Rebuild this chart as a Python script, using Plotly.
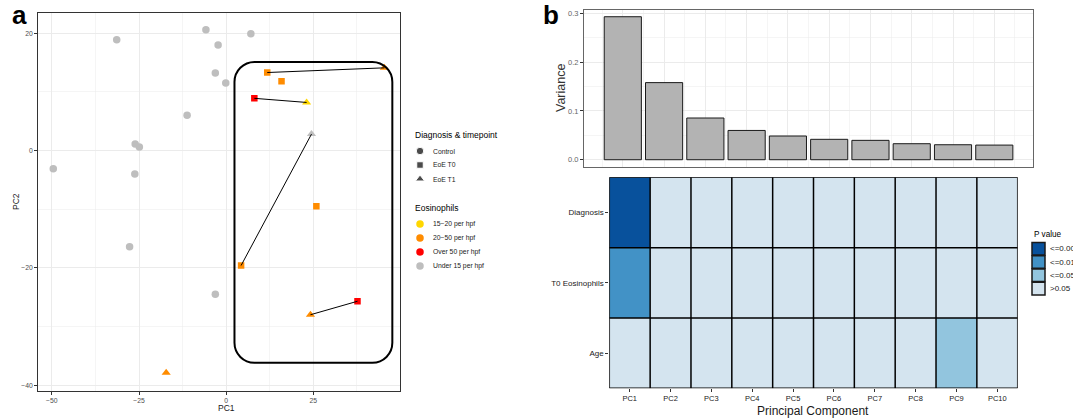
import plotly.graph_objects as go

W, H = 1073, 420
FONT = "Liberation Sans"

# ---------------- Panel a data (PCA scores) ----------------
ctrl_x = [-31.4, -5.8, -2.3, 7.1, -3.1, -0.1, -11.2, -26.1, -24.9, -49.6, -26.2, -27.7, -3.1]
ctrl_y = [18.9, 20.6, 18.0, 19.9, 13.2, 11.5, 6.0, 1.1, 0.6, -3.1, -4.0, -16.4, -24.5]
ctrl_eos = ["Under 15 per hpf"] * len(ctrl_x)

t0_x = [11.8, 15.9, 25.9, 4.3, 8.1, 37.7]
t0_y = [13.3, 11.8, -9.5, -19.6, 8.9, -25.7]
t0_eos = ["20\u221250 per hpf", "20\u221250 per hpf", "20\u221250 per hpf", "20\u221250 per hpf",
          "Over 50 per hpf", "Over 50 per hpf"]

t1_x = [45.4, 23.1, 24.2, -17.2, 24.5]
t1_y = [14.1, 8.2, -28.0, -37.9, 2.8]
t1_eos = ["20\u221250 per hpf", "15\u221220 per hpf", "20\u221250 per hpf", "20\u221250 per hpf",
          "Under 15 per hpf"]

# paired samples: (index in T0, index in T1)
pairs = [(0, 0), (4, 1), (3, 4), (5, 2)]

eos_levels = ["15\u221220 per hpf", "20\u221250 per hpf", "Over 50 per hpf", "Under 15 per hpf"]
eos_colors = ["#ffd700", "#ff8c00", "#ff0000", "#bebebe"]
diag_levels = ["Control", "EoE T0", "EoE T1"]
diag_symbols = ["circle", "square", "triangle-up"]

# highlighted region (rounded box) bounds in PC units
box_x0, box_x1, box_y0, box_y1 = 2.4, 47.7, -36.2, 15.1

# ---------------- Panel b data ----------------
pcs = ["PC1", "PC2", "PC3", "PC4", "PC5", "PC6", "PC7", "PC8", "PC9", "PC10"]
variance = [0.293, 0.158, 0.0855, 0.060, 0.0486, 0.0418, 0.0397, 0.0328, 0.0307, 0.0300]

traits = ["Diagnosis", "T0 Eosinophils", "Age"]
pval_levels = [">0.05", "<=0.05", "<=0.01", "<=0.001"]
pval_colors = ["#d4e4ef", "#92c5de", "#4292c6", "#08519c"]
diagnosis_p = [3, 0, 0, 0, 0, 0, 0, 0, 0, 0]
t0_eos_p = [2, 0, 0, 0, 0, 0, 0, 0, 0, 0]
age_p = [0, 0, 0, 0, 0, 0, 0, 0, 1, 0]

# ---------------- helpers ----------------
def px(x):
    return x / W


def py(y):
    return 1 - y / H


col_of = dict(zip(eos_levels, eos_colors))

fig = go.Figure()

# ---- Panel a scatter ----
fig.add_trace(go.Scatter(x=ctrl_x, y=ctrl_y, mode="markers", xaxis="x", yaxis="y",
                         marker=dict(symbol="circle", size=7.5, color=[col_of[e] for e in ctrl_eos]),
                         showlegend=False, hoverinfo="skip"))
fig.add_trace(go.Scatter(x=t0_x, y=t0_y, mode="markers", xaxis="x", yaxis="y",
                         marker=dict(symbol="square", size=6.5, color=[col_of[e] for e in t0_eos]),
                         showlegend=False, hoverinfo="skip"))
fig.add_trace(go.Scatter(x=t1_x, y=t1_y, mode="markers", xaxis="x", yaxis="y",
                         marker=dict(symbol="triangle-up", size=8, color=[col_of[e] for e in t1_eos]),
                         showlegend=False, hoverinfo="skip"))
lx, ly = [], []
for i, j in pairs:
    lx += [t0_x[i], t1_x[j], None]
    ly += [t0_y[i], t1_y[j], None]
fig.add_trace(go.Scatter(x=lx, y=ly, mode="lines", xaxis="x", yaxis="y",
                         line=dict(color="black", width=1), showlegend=False, hoverinfo="skip"))

# rounded rectangle (path in data coords, radius ~20px)
rx, ry = 20 / 3.488, 20 / 5.861
k = 1 - 0.5523
path = (f"M {box_x0+rx},{box_y1} L {box_x1-rx},{box_y1} "
        f"C {box_x1-rx*k},{box_y1} {box_x1},{box_y1-ry*k} {box_x1},{box_y1-ry} "
        f"L {box_x1},{box_y0+ry} "
        f"C {box_x1},{box_y0+ry*k} {box_x1-rx*k},{box_y0} {box_x1-rx},{box_y0} "
        f"L {box_x0+rx},{box_y0} "
        f"C {box_x0+rx*k},{box_y0} {box_x0},{box_y0+ry*k} {box_x0},{box_y0+ry} "
        f"L {box_x0},{box_y1-ry} "
        f"C {box_x0},{box_y1-ry*k} {box_x0+rx*k},{box_y1} {box_x0+rx},{box_y1} Z")
shapes = [dict(type="path", path=path, xref="x", yref="y", line=dict(color="black", width=2))]

# ---- Panel b bar chart ----
pc_pos = list(range(1, len(pcs) + 1))
fig.add_trace(go.Bar(x=pc_pos, y=variance, xaxis="x2", yaxis="y2", width=0.9,
                     marker=dict(color="#b3b3b3", line=dict(color="#1a1a1a", width=1)),
                     showlegend=False, hoverinfo="skip"))

# ---- Panel b heatmap ----
z = [diagnosis_p, t0_eos_p, age_p]
n = len(pval_levels)
cs = []
for i, c in enumerate(pval_colors):
    cs += [[i / n, c], [(i + 1) / n, c]]
fig.add_trace(go.Heatmap(x=pcs, y=traits, z=z, xaxis="x3", yaxis="y3", colorscale=cs,
                         zmin=-0.5, zmax=n - 0.5, showscale=False, hoverinfo="skip"))
for i in range(len(pcs) + 1):
    shapes.append(dict(type="line", xref="x3", yref="y3", x0=i - 0.5, x1=i - 0.5,
                       y0=-0.5, y1=len(traits) - 0.5, line=dict(color="black", width=1.5)))
for j in range(len(traits) + 1):
    shapes.append(dict(type="line", xref="x3", yref="y3", x0=-0.5, x1=len(pcs) - 0.5,
                       y0=j - 0.5, y1=j - 0.5, line=dict(color="black", width=1.5)))

# ---- Panel a legend (drawn on a pixel-coordinate overlay axis) ----
leg_x = 420
diag_leg_y = [151, 165, 179]
eos_leg_y = [224, 238, 252, 266]
fig.add_trace(go.Scatter(x=[leg_x] * 3, y=diag_leg_y, mode="markers", xaxis="x4", yaxis="y4",
                         marker=dict(symbol=diag_symbols, size=[7.5, 6.5, 8], color="black"),
                         showlegend=False, hoverinfo="skip"))
fig.add_trace(go.Scatter(x=[leg_x] * 4, y=eos_leg_y, mode="markers", xaxis="x4", yaxis="y4",
                         marker=dict(symbol="circle", size=7.5, color=eos_colors),
                         showlegend=False, hoverinfo="skip"))

annotations = []


def txt(text, x, y, size, color="black", xanchor="left", angle=0, bold=False):
    annotations.append(dict(text=f"<b>{text}</b>" if bold else text, x=px(x), y=py(y),
                            xref="paper", yref="paper", xanchor=xanchor, yanchor="middle",
                            showarrow=False, textangle=angle,
                            font=dict(family=FONT, size=size, color=color)))


txt("Diagnosis &amp; timepoint", 412.5, 135.5, 8.5)
for lab, yy in zip(diag_levels, diag_leg_y):
    txt(lab, 430.5, yy, 6.8, "#1a1a1a")
txt("Eosinophils", 412.5, 208.3, 8.5)
for lab, yy in zip(eos_levels, eos_leg_y):
    txt(lab, 430.5, yy, 6.8, "#1a1a1a")

# panel titles and axis titles
txt("a", 9.5, 15.5, 26, bold=True)
txt("b", 541, 15.5, 26, bold=True)
txt("PC1", 226.5, 407.7, 8.5, "#1a1a1a", xanchor="center")
txt("PC2", 16, 202, 8.5, "#1a1a1a", xanchor="center", angle=-90)
txt("Variance", 561, 88, 12.5, "#333333", xanchor="center", angle=-90)
txt("Principal Component", 813, 410.5, 12, "#1a1a1a", xanchor="center")

# heatmap legend
txt("P value", 1031.5, 234, 8.2)
key_y = [248.7, 262, 275.3, 288.6]
for lab, col, yy in zip(pval_levels[::-1], pval_colors[::-1], key_y):
    shapes.append(dict(type="rect", xref="paper", yref="paper",
                       x0=px(1032), x1=px(1045), y0=py(yy + 6.3), y1=py(yy - 6.3),
                       fillcolor=col, line=dict(color="#1a1a1a", width=1.5)))
    txt(lab, 1048, yy, 8, "#1a1a1a")

grid = "#ebebeb"
tickf = dict(family=FONT, size=6.8, color="#4d4d4d")

fig.update_layout(
    width=W, height=H, margin=dict(l=0, r=0, t=0, b=0),
    paper_bgcolor="white", plot_bgcolor="rgba(0,0,0,0)",
    font=dict(family=FONT), showlegend=False, hovermode=False,
    shapes=shapes, annotations=annotations,
    xaxis=dict(domain=[px(38.3), px(400)], range=[-53.9, 49.9], anchor="y",
               tickmode="linear", tick0=0, dtick=25, showgrid=True, gridcolor=grid, gridwidth=1,
               minor=dict(tick0=12.5, dtick=12.5, showgrid=True, gridcolor=grid, gridwidth=0.5),
               zeroline=False, showline=True, mirror=True, linecolor="#333333", linewidth=1.2,
               ticks="outside", ticklen=3, tickcolor="#333333", tickfont=tickf),
    yaxis=dict(domain=[py(391), py(12.7)], range=[-41.0, 23.5], anchor="x",
               tickmode="linear", tick0=0, dtick=20, showgrid=True, gridcolor=grid, gridwidth=1,
               minor=dict(tick0=10, dtick=10, showgrid=True, gridcolor=grid, gridwidth=0.5),
               zeroline=False, showline=True, mirror=True, linecolor="#333333", linewidth=1.2,
               ticks="outside", ticklen=3, tickcolor="#333333", tickfont=tickf),
    xaxis2=dict(domain=[px(584), px(1033.3)], range=[0.06, 10.945], anchor="y2",
                tickmode="linear", tick0=1, dtick=1, showticklabels=False, ticks="",
                showgrid=True, gridcolor=grid, gridwidth=1,
                minor=dict(tick0=0.5, dtick=0.5, showgrid=True, gridcolor=grid, gridwidth=0.5),
                zeroline=False, showline=True, mirror=True, linecolor="#666666", linewidth=1),
    yaxis2=dict(domain=[py(166.7), py(10)], range=[-0.0143, 0.3068], anchor="x2",
                tickmode="array", tickvals=[0, 0.1, 0.2, 0.3], ticktext=["0.0", "0.1", "0.2", "0.3"],
                showgrid=True, gridcolor=grid, gridwidth=1,
                minor=dict(tickvals=[0.05, 0.15, 0.25], showgrid=True, gridcolor=grid, gridwidth=0.5),
                zeroline=False, showline=True, mirror=True, linecolor="#666666", linewidth=1,
                ticks="outside", ticklen=3, tickcolor="#333333",
                tickfont=dict(family=FONT, size=7.5, color="#666666")),
    xaxis3=dict(domain=[px(609.3), px(1017.7)], range=[-0.5, len(pcs) - 0.5], anchor="y3",
                type="category", showgrid=False, zeroline=False, showline=False,
                ticks="outside", ticklen=3, tickcolor="#333333",
                tickfont=dict(family=FONT, size=7.5, color="#1a1a1a")),
    yaxis3=dict(domain=[py(388.3), py(177.3)], range=[len(traits) - 0.5, -0.5], anchor="x3",
                type="category", showgrid=False, zeroline=False, showline=False,
                ticks="outside", ticklen=3, tickcolor="#333333",
                tickfont=dict(family=FONT, size=8, color="#1a1a1a")),
    xaxis4=dict(domain=[0, 1], range=[0, W], anchor="y4", visible=False, fixedrange=True),
    yaxis4=dict(domain=[0, 1], range=[H, 0], anchor="x4", visible=False, fixedrange=True),
)

fig.write_html("out.html", config={"displayModeBar": False, "staticPlot": True},
               post_script="document.body.style.margin='0px';")
